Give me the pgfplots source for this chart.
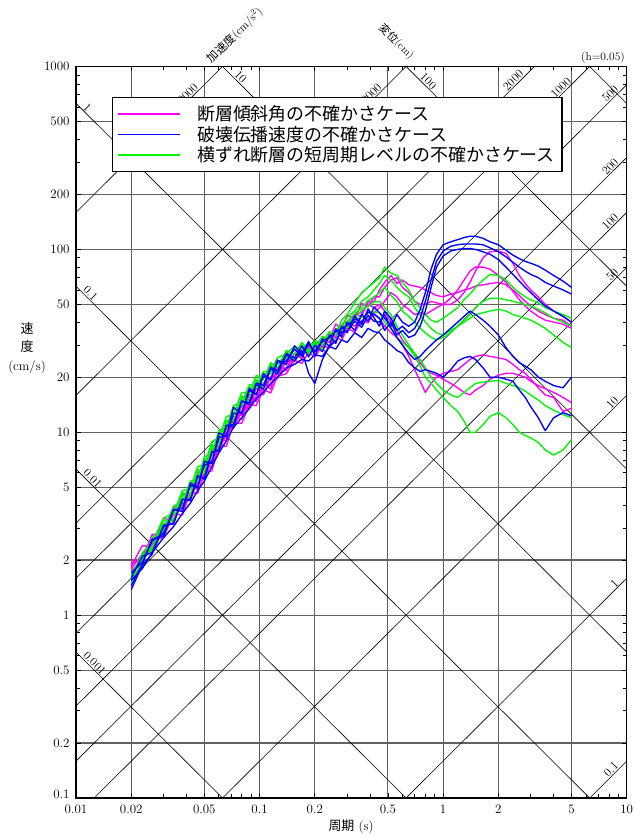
\documentclass[border=0pt]{standalone}
\usepackage{fontspec}
\usepackage{pgfplots}
\usepackage{pgfplotstable}
\pgfplotsset{compat=1.18}
\newfontfamily\jp{Noto Sans CJK JP}
\definecolor{mag}{RGB}{255,0,255}
\definecolor{blu}{RGB}{0,0,255}
\definecolor{grn}{RGB}{0,245,0}
\pgfplotsset{diag/.style={black, line width=0.6bp, forget plot}}
\tikzset{dl/.style={font=\fontsize{12}{14}\selectfont, inner sep=1bp}}

\pgfplotstableread{
T m1 m2 m3 m4 m5
0.02 1.95 1.85 1.75 1.8 1.91
0.023 1.96 2.4 2.0 2.16 2.06
0.026 2.76 2.35 2.54 2.45 2.74
0.03 2.8 3.39 2.66 3.1 2.74
0.034 3.92 3.26 3.57 3.33 3.85
0.038 3.8 4.6 3.53 4.1 3.69
0.042 5.3 4.32 4.7 4.32 5.18
0.046 5.06 6.05 4.62 5.34 4.84
0.05 6.8 5.67 6.0 5.54 6.68
0.055 6.75 8.1 6.15 7.1 6.45
0.06 9.45 7.9 8.4 7.74 9.2
0.066 9.24 10.7 8.4 10.0 9.0
0.072 12.8 10.5 11.2 10.7 12.2
0.08 12.3 14.0 11.2 13.0 11.8
0.088 16.1 13.4 14.2 13.9 15.3
0.096 14.9 17.5 14.0 15.8 14.7
0.105 18.6 16.0 17.1 17.5 18.4
0.115 17.2 20.2 16.4 20.0 17.9
0.125 21.9 19.6 20.2 20.7 22.5
0.14 21.7 25.0 20.9 24.2 22.4
0.155 27.0 24.3 24.8 24.8 27.0
0.17 25.2 29.1 23.8 27.4 26.0
0.185 30.2 26.6 27.4 28.6 29.4
0.2 27.9 31.4 25.7 29.6 27.6
0.22 33.0 29.1 30.0 30.0 32.4
0.24 32.0 34.6 28.8 33.6 31.0
0.26 39.1 33.3 33.3 35.4 36.7
0.28 36.7 38.2 31.7 38.9 34.2
0.3 43.7 36.9 37.2 40.3 39.9
0.33 42.0 44.0 35.2 44.0 38.0
0.36 50.7 43.0 40.9 45.2 43.0
0.39 48.6 51.8 39.6 50.4 40.5
0.42 55.0 51.7 45.1 47.9 44.7
0.45 55 60 48 50 42
0.48 62 66 52 46 38
0.52 68 72 58 40 35
0.56 70 65 55 36 33
0.6 62 68 50 32 30
0.65 58 64 47 29 26
0.7 52 63 44 27 22
0.75 50 62 45 24 19
0.8 50 60 44 22 16.5
0.86 52 58 46 21 18.5
0.92 51 56 48 20.5 20
1.0 50 55 50 19.5 21
1.1 50 57 54 18.5 21.5
1.2 53 58 60 17.5 22
1.3 58 60 68 16.5 23.5
1.4 66 61 76 16 25
1.5 76 63 80 17 26
1.65 90 64 80 18 26.5
1.8 97 65 78 19.5 26
2.0 98 66 72 20.5 25.5
2.2 95 64 66 21 25
2.4 84 60 59 21 23.5
2.6 72 56 53 20.5 22
2.8 65 52 49 20 21
3.0 60 49 46 19 19.5
3.3 55 46 43 18 17.5
3.6 50 44 41 17.3 16
4.0 46 42 40 16.5 15.5
4.5 43 41 39 15.5 13
5.0 40 38 37 14.5 13.5
}\magdata

\pgfplotstableread{
T b1 b2 b3 b4 b5
0.02 1.45 1.6 1.7 1.38 1.55
0.023 1.9 2.1 1.95 1.88 1.8
0.026 2.6 2.2 2.55 2.15 2.2
0.03 2.71 3.1 2.8 3.05 2.65
0.034 3.78 3.15 3.75 3.2 3.05
0.038 3.69 4.3 3.85 4.3 3.6
0.042 5.28 4.22 5.1 4.3 4.1
0.046 4.95 5.78 5.05 5.75 4.8
0.05 6.93 5.54 6.6 5.6 5.4
0.055 6.75 7.8 6.9 7.8 6.5
0.06 9.9 7.92 9.4 8.0 7.7
0.066 9.45 10.9 9.6 10.9 9.0
0.072 13.7 11.0 12.6 10.7 10.6
0.08 12.6 14.8 12.9 14.8 12.0
0.088 17.4 14.5 16.9 14.2 13.5
0.096 16.1 18.6 16.0 18.3 15.3
0.105 20.9 18.0 20.2 17.2 16.5
0.115 19.3 22.7 19.5 22.3 18.5
0.125 24.8 21.6 24.0 20.8 20.0
0.14 23.5 27.0 24.5 26.5 22.5
0.155 29.7 25.4 28.5 24.5 23.5
0.17 26.6 29.7 26.0 28.0 25.0
0.185 31.4 25.8 30.5 21.0 24.5
0.2 26.2 29.9 27.5 18.5 26.5
0.22 32.4 27.6 31.5 25.0 26.0
0.24 29.4 33.9 33.0 29.5 29.5
0.26 36.7 30.6 35.5 31.5 28.5
0.28 33.1 37.8 37.0 35.5 32.0
0.3 39.9 35.0 38.5 35.5 31.0
0.33 36.0 43.2 41.5 40.5 35.0
0.36 44.3 38.7 40.0 37.5 33.0
0.39 40.5 47.3 45.5 43.5 37.0
0.42 48.4 42.3 44.0 40.5 35.5
0.45 45 38 42 40 35
0.48 42 46 36 44 32
0.52 38 42 40 37 30
0.56 44 36 34 33 28
0.6 40 38 36 30 27
0.65 38 35 33 27 24
0.7 40 37 34 25 22.5
0.75 47 42 38 26 21.5
0.8 58 52 46 28 22
0.86 78 68 62 30 21.5
0.92 94 86 80 32 21
1.0 106 98 92 34 20
1.1 110 104 98 37 22
1.2 113 106 100 40 24.5
1.3 116 107 101 43 25.5
1.4 118 107 101 46 26
1.5 118 107 100 44 25
1.65 115 106 97 41 22.5
1.8 110 102 94 38 20
2.0 106 97 88 34 20
2.2 99 91 80 29 19.5
2.4 93 85 73 26 19
2.6 89 80 67 24 17
2.8 86 76 62 23 15.5
3.0 84 73 58 22 13.8
3.3 81 70 53 20 12
3.6 77 66 49 19 10.2
4.0 72 63 46 18 12
4.5 67 60 43 17.5 12.8
5.0 62 57 40 20 12.3
}\bludata

\pgfplotstableread{
T g1 g2 g3 g4 g5
0.02 1.6 1.55 1.7 1.5 1.65
0.023 2.2 1.95 2.05 2.0 2.15
0.026 2.5 2.65 2.35 2.3 2.25
0.03 3.4 2.95 3.15 2.9 3.3
0.034 3.6 3.95 3.35 3.7 3.25
0.038 4.8 4.2 4.5 3.95 4.7
0.042 4.9 5.4 4.6 5.2 4.35
0.046 6.5 5.6 6.1 5.35 6.3
0.05 6.6 7.3 6.2 7.0 5.9
0.055 8.9 7.7 8.3 7.4 8.6
0.06 9.3 10.2 8.6 9.8 8.1
0.066 12.2 10.7 11.6 10.3 11.5
0.072 12.5 14.0 11.6 13.4 11.0
0.08 16.5 14.6 15.5 14.0 15.8
0.088 16.4 18.2 15.3 17.6 14.6
0.096 20.5 18.0 19.2 17.4 19.5
0.105 19.5 21.5 18.2 21.0 17.5
0.115 24.0 21.5 22.8 20.8 23.5
0.125 22.5 25.5 22.5 24.5 21.0
0.14 28.0 27.0 26.5 25.3 27.5
0.155 26.5 29.5 25.5 29.0 24.5
0.17 31.0 28.5 29.5 28.8 30.0
0.185 28.0 31.0 27.5 30.5 26.5
0.2 31.5 29.0 31.5 30.3 30.5
0.22 30.0 33.5 31.0 32.5 28.5
0.24 35.0 32.0 35.5 33.0 33.5
0.26 35.0 36.5 34.0 35.5 31.5
0.28 41.0 38.0 38.5 36.0 36.5
0.3 44.0 42.5 40.0 39.5 37.5
0.33 51.0 46.0 44.5 42.0 41.5
0.36 58.0 52.0 48.0 46.5 42.5
0.39 62.0 55.0 52.5 49.0 44.5
0.42 66.0 60.0 55.0 51.5 45.5
0.45 70 65 58 52 45
0.48 80 72 62 48 40
0.52 74 68 56 44 37
0.56 72 62 52 38 33
0.6 66 58 46 34 31
0.65 60 55 43 30 29
0.7 52 48 40 27 26
0.75 48 44 37 25 23
0.8 44 40 35 22.5 20
0.86 41 37 33 20 18.5
0.92 40 35 32 18.5 17
1.0 42 34 33 17 15.5
1.1 45 36 35 16 14
1.2 48 38 38 15.5 13
1.3 53 41 40 16.5 11.5
1.4 57 44 42 17.5 10
1.5 62 48 44 18.5 10
1.65 68 52 45 18.8 11
1.8 73 54 46 19 12.2
2.0 72 54 47 19.2 12.8
2.2 68 53 46 18.5 12
2.4 62 52 44 18 11
2.6 58 51 43 17.5 10
2.8 55 50 42 16.8 9.6
3.0 53 49 41 16 9.3
3.3 51 47 39 15 8.8
3.6 48 45 37 14 8.0
4.0 46 42 34 13.2 7.5
4.5 44 40 31 12.5 8.0
5.0 42 38 29 12 9.1
}\grndata

\begin{document}
\begin{tikzpicture}
\path[use as bounding box] (-76bp,-37bp) rectangle (558bp,798bp);
\begin{axis}[
  name=ax, at={(0bp,0bp)}, anchor=south west,
  scale only axis, width=550.7bp, height=731.5bp,
  xmode=log, ymode=log,
  xmin=0.01, xmax=10, ymin=0.1, ymax=1000,
  xtick={0.01,0.02,0.05,0.1,0.2,0.5,1,2,5,10},
  xticklabels={0.01,0.02,0.05,0.1,0.2,0.5,1,2,5,10},
  ytick={0.1,0.2,0.5,1,2,5,10,20,50,100,200,500,1000},
  yticklabels={\raisebox{8bp}{0.1},0.2,0.5,1,2,5,10,20,50,100,200,500,1000},
  minor xtick={0.03,0.04,0.06,0.07,0.08,0.09,0.3,0.4,0.6,0.7,0.8,0.9,3,4,6,7,8,9},
  minor ytick={0.3,0.4,0.6,0.7,0.8,0.9,3,4,6,7,8,9,30,40,60,70,80,90,300,400,600,700,800,900},
  grid=major,
  major grid style={black!62, line width=1.2bp},
  tick align=inside,
  major tick length=5bp, minor tick length=4bp,
  tick style={black, line width=0.7bp},
  axis line style={black, line width=1.3bp},
  ticklabel style={font=\fontsize{13}{15}\selectfont},
  yticklabel style={xshift=-3bp},
  xticklabel style={yshift=-3bp},
  legend style={at={(axis description cs:0.0654,0.9583)}, anchor=north west,
    draw=black, line width=1.3bp, fill=white,
    font=\jp\fontsize{18}{20}\selectfont,
    inner xsep=5bp, inner ysep=6bp, row sep=0bp,
    cells={anchor=west}},
  legend image code/.code={\draw[#1] (0bp,0bp) -- (62bp,0bp); \path (76bp,0bp);},
]
% acceleration lines (cm/s^2)
\addplot[diag] coordinates {(0.01,0.00015915) (10,0.15915)};
\addplot[diag] coordinates {(0.01,0.0015915) (10,1.5915)};
\addplot[diag] coordinates {(0.01,0.015915) (10,15.915)};
\addplot[diag] coordinates {(0.01,0.079577) (10,79.577)};
\addplot[diag] coordinates {(0.01,0.15915) (10,159.15)};
\addplot[diag] coordinates {(0.01,0.3183) (10,318.3)};
\addplot[diag] coordinates {(0.01,0.79577) (10,795.77)};
\addplot[diag] coordinates {(0.01,1.5915) (10,1591.5)};
\addplot[diag] coordinates {(0.01,3.183) (10,3183)};
\addplot[diag] coordinates {(0.01,15.915) (10,15915)};
\addplot[diag] coordinates {(0.01,159.15) (10,159155)};
% displacement lines (cm)
\addplot[diag] coordinates {(0.01,0.62832) (10,0.00062832)};
\addplot[diag] coordinates {(0.01,6.2832) (10,0.0062832)};
\addplot[diag] coordinates {(0.01,62.832) (10,0.062832)};
\addplot[diag] coordinates {(0.01,628.32) (10,0.62832)};
\addplot[diag] coordinates {(0.01,6283.2) (10,6.2832)};
\addplot[diag] coordinates {(0.01,62832) (10,62.832)};
\addplot[diag] coordinates {(0.01,628320) (10,628.32)};

% labels of diagonal lines
\node[dl, rotate=45, anchor=south east] at (axis cs:9.3,740) {500};
\node[dl, rotate=45, anchor=south east] at (axis cs:9.3,296) {200};
\node[dl, rotate=45, anchor=south east] at (axis cs:9.3,148) {100};
\node[dl, rotate=45, anchor=south east] at (axis cs:9.3,74) {50};
\node[dl, rotate=45, anchor=south east] at (axis cs:9.3,14.8) {10};
\node[dl, rotate=45, anchor=south east] at (axis cs:9.3,1.48) {1};
\node[dl, rotate=45, anchor=south east] at (axis cs:9.3,0.148) {0.1};
\node[dl, rotate=45, anchor=south east] at (axis cs:2.827,900) {2000};
\node[dl, rotate=45, anchor=south east] at (axis cs:5.15,820) {1000};
\node[dl, rotate=45, anchor=south east] at (axis cs:0.4775,760) {10000};
\node[dl, rotate=45, anchor=south east] at (axis cs:0.04775,760) {100000};
\node[dl, rotate=-45, anchor=south west] at (axis cs:0.0106,592.7) {1};
\node[dl, rotate=-45, anchor=south west] at (axis cs:0.0106,59.27) {0.1};
\node[dl, rotate=-45, anchor=south west] at (axis cs:0.0106,5.927) {0.01};
\node[dl, rotate=-45, anchor=south west] at (axis cs:0.0106,0.5927) {0.001};
\node[dl, rotate=-45, anchor=south west] at (axis cs:0.0707,889) {10};
\node[dl, rotate=-45, anchor=south west] at (axis cs:0.7254,866) {100};

% legend
\addlegendimage{mag, line width=1.5bp}
\addlegendentry{断層傾斜角の不確かさケース}
\addlegendimage{blu, line width=1.5bp}
\addlegendentry{破壊伝播速度の不確かさケース}
\addlegendimage{grn, line width=1.5bp}
\addlegendentry{横ずれ断層の短周期レベルの不確かさケース\hspace{11bp}}

% data
\pgfplotsinvokeforeach{m1,m2,m3,m4,m5}{
  \addplot[mag, line width=1.35bp, line join=round, forget plot] table[x=T, y=#1] {\magdata};
}
\pgfplotsinvokeforeach{g1,g2,g3,g4,g5}{
  \addplot[grn, line width=1.35bp, line join=round, forget plot] table[x=T, y=#1] {\grndata};
}
\pgfplotsinvokeforeach{b1,b2,b3,b4,b5}{
  \addplot[blu, line width=1.35bp, line join=round, forget plot] table[x=T, y=#1] {\bludata};
}
\end{axis}

% texts outside the plot area
\node[font=\fontsize{11.5}{13}\selectfont, rotate=45, anchor=south west, inner sep=1bp]
  at (138bp,731bp) {{\jp 加速度}(cm/s$^2$)};
\node[font=\fontsize{11}{13}\selectfont, rotate=-45, anchor=east, inner sep=1bp]
  at (337bp,740bp) {{\jp 変位}(cm)};
\node[font=\fontsize{11.5}{13}\selectfont, anchor=base east, inner sep=0bp]
  at (549bp,737bp) {(h=0.05)};
\node[font=\fontsize{13}{18.5}\selectfont, align=center]
  at (-49bp,450bp) {{\jp 速}\\{\jp 度}\\(cm/s)};
\node[font=\fontsize{13}{15}\selectfont]
  at (275bp,-28.5bp) {{\jp 周期}~(s)};
\end{tikzpicture}
\end{document}
